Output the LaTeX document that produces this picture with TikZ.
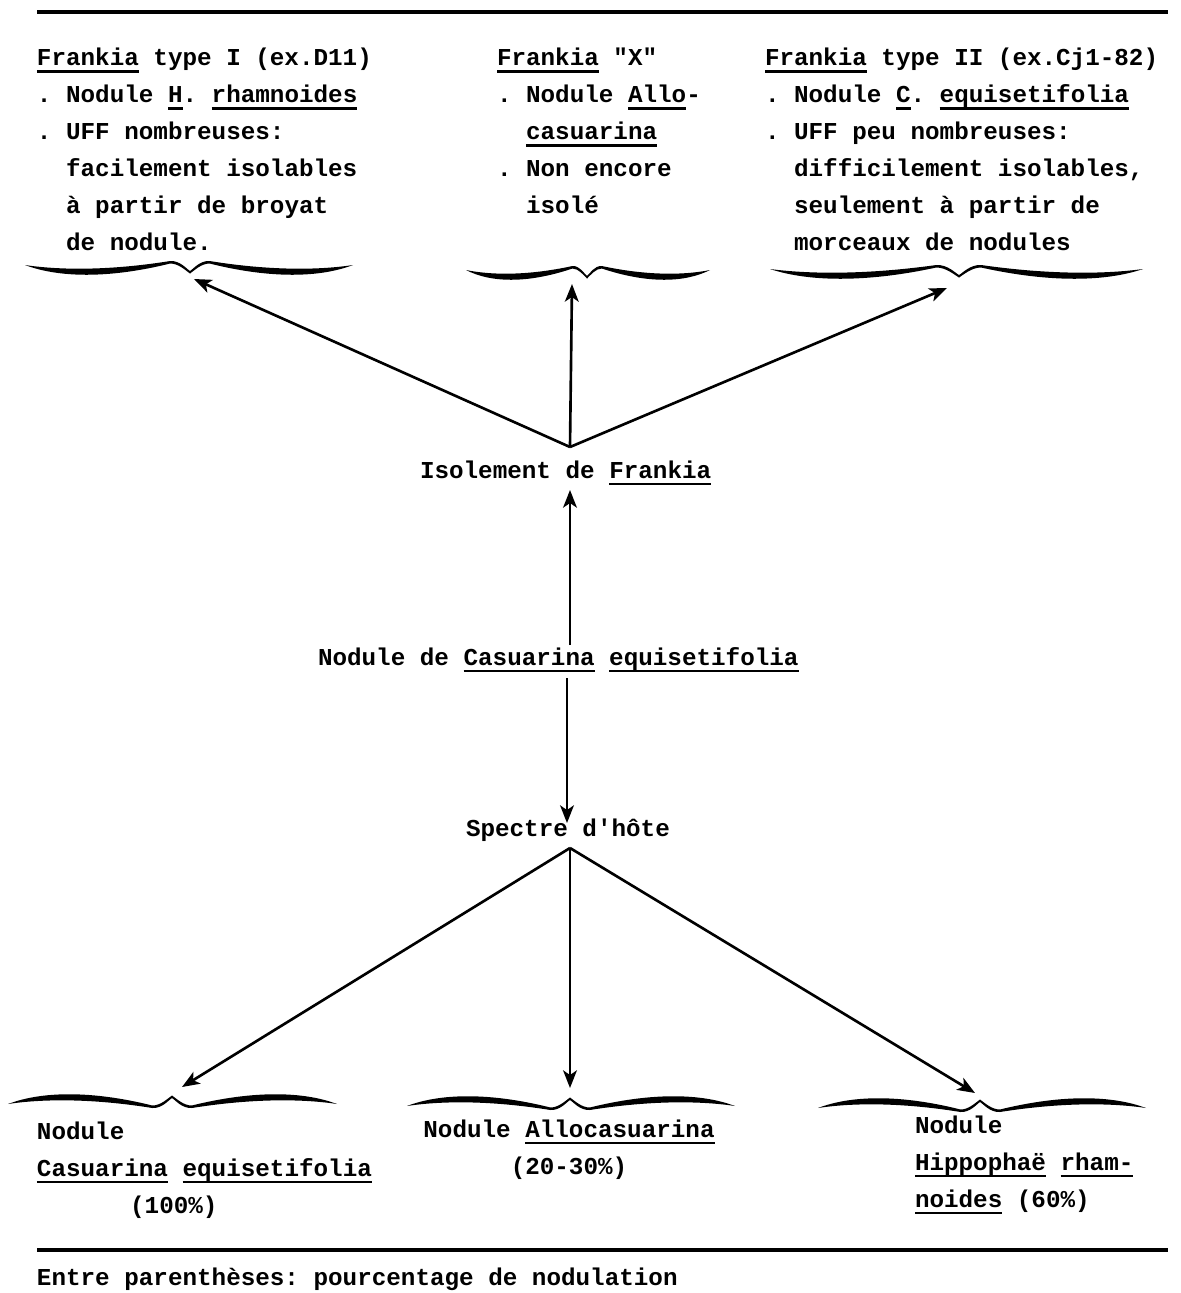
\documentclass[tikz,border=0pt]{standalone}
\usepackage{fontspec}
\setmonofont{Liberation Mono}
\usetikzlibrary{arrows.meta}
\newcommand\ulw[1]{\setbox0=\hbox{#1}\rlap{\vrule height -1.4pt depth 2.1pt width \wd0}\box0\relax}
\newcommand\wbrace[5]{%
 \begin{scope}[shift={(#1,#2)},yscale=#5]
  \fill[xscale=#3] (-1,0) .. controls (-0.8,5) and (-0.5,6) .. (-0.12,-4) .. controls (-0.06,-4.5) and (-0.02,4) .. (0,6) -- (0,8.5) .. controls (-0.03,5) and (-0.07,-1.5) .. (-0.12,-1.5) .. controls (-0.5,14) and (-0.8,12.5) .. (-1,0) -- cycle;
  \fill[xscale=-#4] (-1,0) .. controls (-0.8,5) and (-0.5,6) .. (-0.12,-4) .. controls (-0.06,-4.5) and (-0.02,4) .. (0,6) -- (0,8.5) .. controls (-0.03,5) and (-0.07,-1.5) .. (-0.12,-1.5) .. controls (-0.5,14) and (-0.8,12.5) .. (-1,0) -- cycle;
 \end{scope}}
\tikzset{
 txt/.style={font=\fontsize{6.9}{10.5}\selectfont\ttfamily\bfseries, inner sep=0pt, outer sep=0pt, align=left, anchor=base west},
 ctxt/.style={txt, align=center, anchor=base},
 arr/.style={line width=0.75pt, -{Stealth[length=5pt,width=3.9pt,inset=1.3pt]}},
 hrule/.style={line width=1pt}
}
\begin{document}
\begin{tikzpicture}[x=0.01cm,y=-0.01cm]
\fill[white] (0,0) rectangle (1181,1293);
\useasboundingbox (0,0) rectangle (1181,1293);
% rules
\coordinate (r1a) at (37,12); \coordinate (r1b) at (1168,12);
\coordinate (r2a) at (37,1250); \coordinate (r2b) at (1168,1250);
\draw[hrule] (r1a) -- (r1b);
\draw[hrule] (r2a) -- (r2b);
% top blocks (anchor = baseline of last line)
\node[txt] (t1) at (37,250) {\ulw{Frankia} type I (ex.D11)\\. Nodule \ulw{H}. \ulw{rhamnoides}\\. UFF nombreuses:\\\ \ facilement isolables\\\ \ à partir de broyat\\\ \ de nodule.};
\node[txt] (t2) at (497,213) {\ulw{Frankia} "X"\\. Nodule \ulw{Allo}-\\\ \ \ulw{casuarina}\\. Non encore\\\ \ isolé};
\node[txt] (t3) at (765,250) {\ulw{Frankia} type II (ex.Cj1-82)\\. Nodule \ulw{C}. \ulw{equisetifolia}\\. UFF peu nombreuses:\\\ \ difficilement isolables,\\\ \ seulement à partir de\\\ \ morceaux de nodules};
% top braces
\wbrace{190}{265}{165}{163}{1}
\wbrace{587}{270}{121}{123}{1}
\wbrace{959}{269}{189}{184}{1}
% centre texts
\node[txt] (iso) at (420,478) {Isolement de \ulw{Frankia}};
\node[txt] (nod) at (318,665) {Nodule de \ulw{Casuarina} \ulw{equisetifolia}};
\node[txt] (spe) at (466,836) {Spectre d'hôte};
% top arrows
\coordinate (apT) at (570,447);
\coordinate (tL) at (194,279);
\coordinate (tM) at (572,284);
\coordinate (tR) at (947,288);
\draw[arr] (apT) -- (tL);
\draw[arr] (apT) -- (tM);
\draw[arr] (apT) -- (tR);
\coordinate (u1) at (570,645); \coordinate (u2) at (570,490);
\draw[arr] (u1) -- (u2);
\coordinate (d1) at (567,678); \coordinate (d2) at (567,823);
\draw[arr] (d1) -- (d2);
% bottom arrows
\coordinate (apB) at (570,848);
\coordinate (bL) at (182,1087);
\coordinate (bM) at (570,1088);
\coordinate (bR) at (975,1093);
\draw[arr] (apB) -- (bL);
\draw[arr] (apB) -- (bM);
\draw[arr] (apB) -- (bR);
% bottom braces
\wbrace{172}{1104}{164}{165}{-1}
\wbrace{570}{1106}{163}{165}{-1}
\wbrace{980}{1108}{162}{166}{-1}
% bottom texts (anchor = baseline of last line)
\node[txt] (bl) at (37,1213) {Nodule\\\ulw{Casuarina} \ulw{equisetifolia}\\\hspace*{26.5pt}(100\%)};
\node[ctxt] (bm) at (569,1174) {Nodule \ulw{Allocasuarina}\\(20-30\%)};
\node[txt] (br) at (915,1207) {Nodule\\\ulw{Hippophaë} \ulw{rham-}\\\ulw{noides} (60\%)};
\node[txt] (note) at (37,1285) {Entre parenthèses: pourcentage de nodulation};
\end{tikzpicture}
\end{document}
